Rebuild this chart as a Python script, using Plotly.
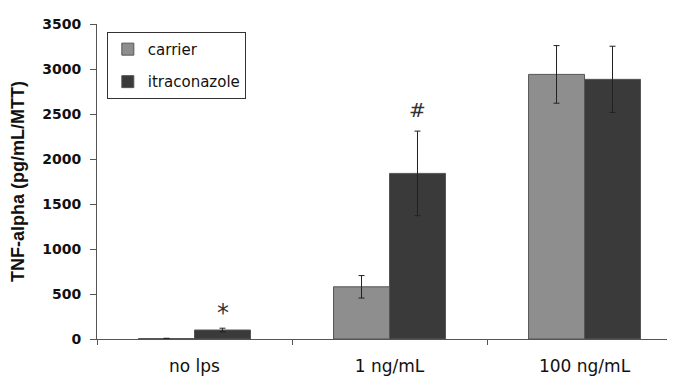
import plotly.graph_objects as go

categories = ["no lps", "1 ng/mL", "100 ng/mL"]
carrier = [5, 580, 2940]
carrier_err = [3, 125, 320]
itraconazole = [100, 1840, 2885]
itraconazole_err = [20, 470, 368]
y_ticks = [0, 500, 1000, 1500, 2000, 2500, 3000, 3500]
marks = [("*", 0, 290, 24), ("#", 1, 2540, 20)]

font = "Liberation Sans, Arial, sans-serif"
wide = "DejaVu Sans, sans-serif"

fig = go.Figure()
fig.add_trace(go.Bar(
    name="carrier", x=categories, y=carrier, legendgroup="a",
    marker=dict(color="#8e8e8e", line=dict(color="#555555", width=1)),
    error_y=dict(type="data", array=carrier_err, color="#222222", thickness=1, width=3),
))
fig.add_trace(go.Bar(
    name="itraconazole", x=categories, y=itraconazole, legendgroup="b",
    marker=dict(color="#3a3a3a", line=dict(color="#555555", width=1)),
    error_y=dict(type="data", array=itraconazole_err, color="#222222", thickness=1, width=3),
))

for txt, xi, yv, sz in marks:
    fig.add_annotation(x=xi, y=yv, text=txt, showarrow=False, xshift=28,
                       font=dict(family=wide, size=sz, color="#333333"))

fig.update_layout(
    width=675, height=381,
    margin=dict(l=89, r=8, t=12, b=50),
    paper_bgcolor="white", plot_bgcolor="white",
    barmode="group", bargap=0.426, bargroupgap=0,
    font=dict(family=font, color="#111111"),
    showlegend=True,
    legend=dict(x=0.017, y=0.975, xanchor="left", yanchor="top",
                bordercolor="#333333", borderwidth=1, bgcolor="white",
                font=dict(family=wide, size=15, color="#111111"),
                itemwidth=30, tracegroupgap=10, traceorder="grouped"),
    xaxis=dict(type="category", range=[-0.5, 2.464],
               showline=True, linecolor="#555555", linewidth=1,
               ticks="outside", tickson="boundaries", ticklen=5, tickcolor="#555555",
               tickfont=dict(family=wide, size=17, color="#111111"),
               showgrid=False, zeroline=False, ticklabelstandoff=12),
    yaxis=dict(range=[0, 3500], tickvals=y_ticks,
               showline=True, linecolor="#555555", linewidth=1,
               ticks="outside", ticklen=6, tickcolor="#555555",
               tickfont=dict(family=wide, size=14, color="#111111", weight="bold"),
               showgrid=False, zeroline=False, ticklabelstandoff=6,
               title=dict(text="TNF-alpha (pg/mL/MTT)",
                          font=dict(family=font, size=18, color="#111111", weight="bold"),
                          standoff=12)),
)

fig.write_html("out.html")
